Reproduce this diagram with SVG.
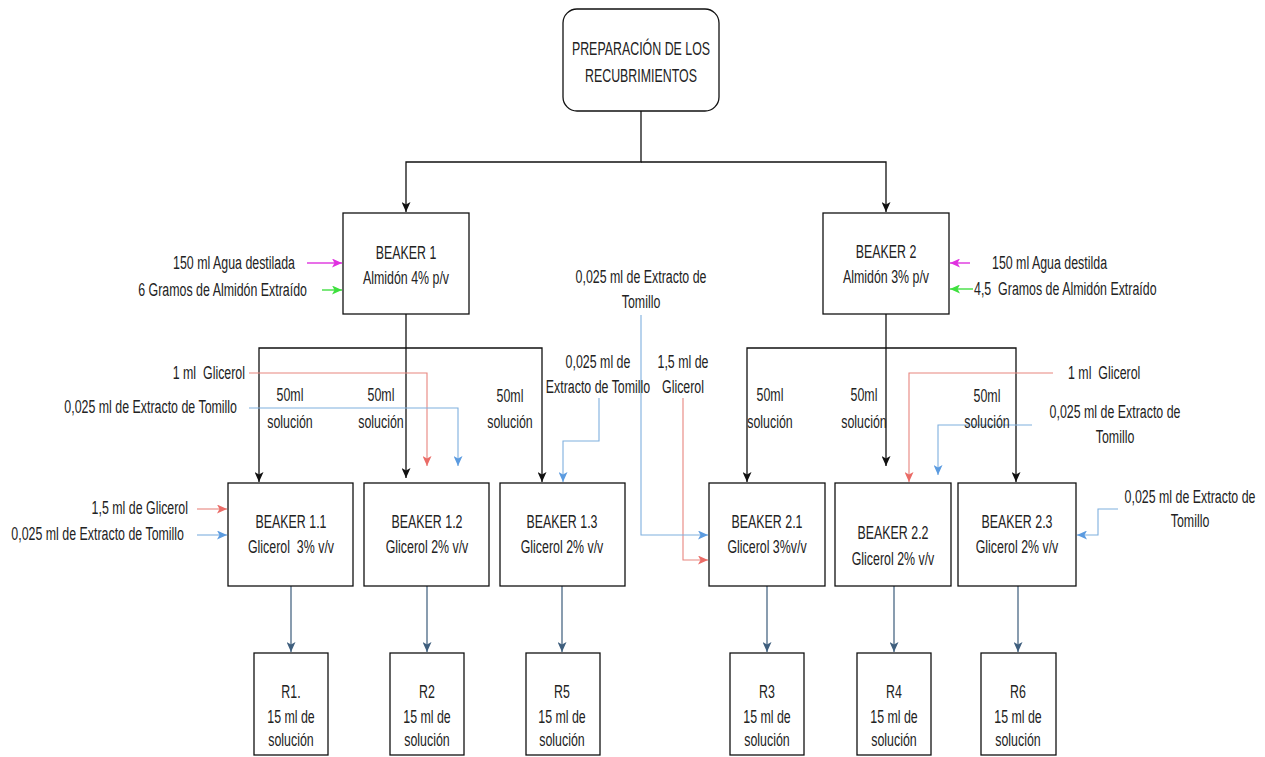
<svg xmlns="http://www.w3.org/2000/svg" width="1265" height="757" viewBox="0 0 1265 757">
<style>
text{font-family:"Liberation Sans",Arial,sans-serif;font-size:12.4px;fill:#222;white-space:pre}
.m{text-anchor:middle}.e{text-anchor:end}.s{text-anchor:start}
.box{fill:#fff;stroke:#111;stroke-width:1.3}
.k{fill:none;stroke:#111;stroke-width:1.3}
.r{fill:none;stroke:#e8857f;stroke-width:1.1}
.b{fill:none;stroke:#7fb0de;stroke-width:1.1}
.g{fill:none;stroke:#4fe04f;stroke-width:1.5}
.p{fill:none;stroke:#e040e0;stroke-width:1.5}
.sl{fill:none;stroke:#4a6884;stroke-width:1.3}
</style>
<defs>
<marker id="ak" markerUnits="userSpaceOnUse" markerWidth="10" markerHeight="9" refX="10" refY="4.5" orient="auto"><path d="M0,0 L10,4.5 L0,9 L2.5,4.5 Z" fill="#111"/></marker>
<marker id="ar" markerUnits="userSpaceOnUse" markerWidth="10" markerHeight="9" refX="10" refY="4.5" orient="auto"><path d="M0,0 L10,4.5 L0,9 L2.5,4.5 Z" fill="#ea6b66"/></marker>
<marker id="ab" markerUnits="userSpaceOnUse" markerWidth="10" markerHeight="9" refX="10" refY="4.5" orient="auto"><path d="M0,0 L10,4.5 L0,9 L2.5,4.5 Z" fill="#5b9be0"/></marker>
<marker id="ag" markerUnits="userSpaceOnUse" markerWidth="10" markerHeight="9" refX="10" refY="4.5" orient="auto"><path d="M0,0 L10,4.5 L0,9 L2.5,4.5 Z" fill="#3ee03e"/></marker>
<marker id="ap" markerUnits="userSpaceOnUse" markerWidth="10" markerHeight="9" refX="10" refY="4.5" orient="auto"><path d="M0,0 L10,4.5 L0,9 L2.5,4.5 Z" fill="#e030e0"/></marker>
<marker id="as" markerUnits="userSpaceOnUse" markerWidth="10" markerHeight="9" refX="10" refY="4.5" orient="auto"><path d="M0,0 L10,4.5 L0,9 L2.5,4.5 Z" fill="#3f5f7e"/></marker>
</defs>
<rect width="1265" height="757" fill="#fff"/>

<g id="connectors">
<path class="k" d="M641,111 V162 H406 V212" marker-end="url(#ak)"/>
<path class="k" d="M641,162 H886 V212" marker-end="url(#ak)"/>
<path class="k" d="M406,314 V478" marker-end="url(#ak)"/>
<path class="k" d="M406,348 H259 V482" marker-end="url(#ak)"/>
<path class="k" d="M406,348 H542 V482" marker-end="url(#ak)"/>
<path class="k" d="M886,314 V466" marker-end="url(#ak)"/>
<path class="k" d="M886,348 H747 V482" marker-end="url(#ak)"/>
<path class="k" d="M886,348 H1016 V482" marker-end="url(#ak)"/>

<path class="r" d="M249,373 H427 V466" marker-end="url(#ar)"/>
<path class="r" d="M197,509 H227" marker-end="url(#ar)"/>
<path class="r" d="M683,398 V560 H708" marker-end="url(#ar)"/>
<path class="r" d="M1053,373 H909 V482" marker-end="url(#ar)"/>

<path class="b" d="M249,408 H458 V466" marker-end="url(#ab)"/>
<path class="b" d="M197,535 H227" marker-end="url(#ab)"/>
<path class="b" d="M599,398 V441 H563 V482" marker-end="url(#ab)"/>
<path class="b" d="M641,315 V535 H708" marker-end="url(#ab)"/>
<path class="b" d="M1032,425 H938 V475" marker-end="url(#ab)"/>
<path class="b" d="M1118,509 H1098 V535 H1077" marker-end="url(#ab)"/>

<path class="p" d="M307,263 H342" marker-end="url(#ap)"/>
<path class="g" d="M322,290 H342" marker-end="url(#ag)"/>
<path class="p" d="M970,263 H950" marker-end="url(#ap)"/>
<path class="g" d="M973,289 H950" marker-end="url(#ag)"/>

<path class="sl" d="M291,586 V652" marker-end="url(#as)"/>
<path class="sl" d="M427,586 V652" marker-end="url(#as)"/>
<path class="sl" d="M562,586 V652" marker-end="url(#as)"/>
<path class="sl" d="M767,586 V652" marker-end="url(#as)"/>
<path class="sl" d="M894,586 V652" marker-end="url(#as)"/>
<path class="sl" d="M1018,586 V652" marker-end="url(#as)"/>
</g>

<g id="labels">
<text class="e" transform="translate(295 269) scale(1 1.5)">150 ml Agua destilada</text>
<text class="e" transform="translate(307 296) scale(1 1.5)">6 Gramos de Almidón Extraído</text>
<text class="s" transform="translate(992 269) scale(1 1.5)">150 ml Agua destilda</text>
<text class="s" transform="translate(974 295) scale(1 1.5)">4,5  Gramos de Almidón Extraído</text>
<text class="m" transform="translate(641 283) scale(1 1.5)">0,025 ml de Extracto de</text>
<text class="m" transform="translate(641 308) scale(1 1.5)">Tomillo</text>
<text class="e" transform="translate(245 379) scale(1 1.5)">1 ml  Glicerol</text>
<text class="e" transform="translate(237 413) scale(1 1.5)">0,025 ml de Extracto de Tomillo</text>
<text class="m" transform="translate(290 401) scale(1 1.5)">50ml</text>
<text class="m" transform="translate(290 428) scale(1 1.5)">solución</text>
<text class="m" transform="translate(381 401) scale(1 1.5)">50ml</text>
<text class="m" transform="translate(381 428) scale(1 1.5)">solución</text>
<text class="m" transform="translate(510 402) scale(1 1.5)">50ml</text>
<text class="m" transform="translate(510 428) scale(1 1.5)">solución</text>
<text class="m" transform="translate(598 368) scale(1 1.5)">0,025 ml de</text>
<text class="m" transform="translate(598 393) scale(1 1.5)">Extracto de Tomillo</text>
<text class="m" transform="translate(683 368) scale(1 1.5)">1,5 ml de</text>
<text class="m" transform="translate(683 393) scale(1 1.5)">Glicerol</text>
<text class="m" transform="translate(770 401) scale(1 1.5)">50ml</text>
<text class="m" transform="translate(770 428) scale(1 1.5)">solución</text>
<text class="m" transform="translate(864 401) scale(1 1.5)">50ml</text>
<text class="m" transform="translate(864 428) scale(1 1.5)">solución</text>
<text class="m" transform="translate(987 402) scale(1 1.5)">50ml</text>
<text class="m" transform="translate(987 428) scale(1 1.5)">solución</text>
<text class="s" transform="translate(1068 379) scale(1 1.5)">1 ml  Glicerol</text>
<text class="m" transform="translate(1115 418) scale(1 1.5)">0,025 ml de Extracto de</text>
<text class="m" transform="translate(1115 443) scale(1 1.5)">Tomillo</text>
<text class="m" transform="translate(1190 503) scale(1 1.5)">0,025 ml de Extracto de</text>
<text class="m" transform="translate(1190 527) scale(1 1.5)">Tomillo</text>
<text class="e" transform="translate(188 514) scale(1 1.5)">1,5 ml de Glicerol</text>
<text class="e" transform="translate(184 540) scale(1 1.5)">0,025 ml de Extracto de Tomillo</text>
</g>

<g id="top">
<rect class="box" x="563" y="9" width="156" height="102" rx="14"/>
<text class="m" transform="translate(641 55) scale(1 1.5)">PREPARACIÓN DE LOS</text>
<text class="m" transform="translate(641 82) scale(1 1.5)">RECUBRIMIENTOS</text>
</g>
<g id="beaker1">
<rect class="box" x="343" y="213" width="126" height="101"/>
<text class="m" transform="translate(406 259) scale(1 1.5)">BEAKER 1</text>
<text class="m" transform="translate(406 284) scale(1 1.5)">Almidón 4% p/v</text>
</g>
<g id="beaker2">
<rect class="box" x="823" y="213" width="126" height="101"/>
<text class="m" transform="translate(886 258) scale(1 1.5)">BEAKER 2</text>
<text class="m" transform="translate(886 283) scale(1 1.5)">Almidón 3% p/v</text>
</g>
<g id="beaker11">
<rect class="box" x="228" y="483" width="125" height="103"/>
<text class="m" transform="translate(291 528) scale(1 1.5)">BEAKER 1.1</text>
<text class="m" transform="translate(291 553) scale(1 1.5)">Glicerol  3% v/v</text>
</g>
<g id="beaker12">
<rect class="box" x="364" y="483" width="125" height="103"/>
<text class="m" transform="translate(427 528) scale(1 1.5)">BEAKER 1.2</text>
<text class="m" transform="translate(427 553) scale(1 1.5)">Glicerol 2% v/v</text>
</g>
<g id="beaker13">
<rect class="box" x="500" y="483" width="125" height="103"/>
<text class="m" transform="translate(562 528) scale(1 1.5)">BEAKER 1.3</text>
<text class="m" transform="translate(562 553) scale(1 1.5)">Glicerol 2% v/v</text>
</g>
<g id="beaker21">
<rect class="box" x="709" y="483" width="116" height="103"/>
<text class="m" transform="translate(767 528) scale(1 1.5)">BEAKER 2.1</text>
<text class="m" transform="translate(767 553) scale(1 1.5)">Glicerol 3%v/v</text>
</g>
<g id="beaker22">
<rect class="box" x="835" y="483" width="116" height="103"/>
<text class="m" transform="translate(893 539) scale(1 1.5)">BEAKER 2.2</text>
<text class="m" transform="translate(893 565) scale(1 1.5)">Glicerol 2% v/v</text>
</g>
<g id="beaker23">
<rect class="box" x="958" y="483" width="118" height="103"/>
<text class="m" transform="translate(1017 528) scale(1 1.5)">BEAKER 2.3</text>
<text class="m" transform="translate(1017 553) scale(1 1.5)">Glicerol 2% v/v</text>
</g>
<g id="r1">
<rect class="box" x="254" y="653" width="74" height="102"/>
<text class="m" transform="translate(291 698) scale(1 1.5)">R1.</text>
<text class="m" transform="translate(291 723) scale(1 1.5)">15 ml de</text>
<text class="m" transform="translate(291 746) scale(1 1.5)">solución</text>
</g>
<g id="r2">
<rect class="box" x="390" y="653" width="74" height="102"/>
<text class="m" transform="translate(427 698) scale(1 1.5)">R2</text>
<text class="m" transform="translate(427 723) scale(1 1.5)">15 ml de</text>
<text class="m" transform="translate(427 746) scale(1 1.5)">solución</text>
</g>
<g id="r5">
<rect class="box" x="526" y="653" width="74" height="102"/>
<text class="m" transform="translate(562 698) scale(1 1.5)">R5</text>
<text class="m" transform="translate(562 723) scale(1 1.5)">15 ml de</text>
<text class="m" transform="translate(562 746) scale(1 1.5)">solución</text>
</g>
<g id="r3">
<rect class="box" x="730" y="653" width="74" height="102"/>
<text class="m" transform="translate(767 698) scale(1 1.5)">R3</text>
<text class="m" transform="translate(767 723) scale(1 1.5)">15 ml de</text>
<text class="m" transform="translate(767 746) scale(1 1.5)">solución</text>
</g>
<g id="r4">
<rect class="box" x="857" y="653" width="74" height="102"/>
<text class="m" transform="translate(894 698) scale(1 1.5)">R4</text>
<text class="m" transform="translate(894 723) scale(1 1.5)">15 ml de</text>
<text class="m" transform="translate(894 746) scale(1 1.5)">solución</text>
</g>
<g id="r6">
<rect class="box" x="981" y="653" width="75" height="102"/>
<text class="m" transform="translate(1018 698) scale(1 1.5)">R6</text>
<text class="m" transform="translate(1018 723) scale(1 1.5)">15 ml de</text>
<text class="m" transform="translate(1018 746) scale(1 1.5)">solución</text>
</g>
</svg>
